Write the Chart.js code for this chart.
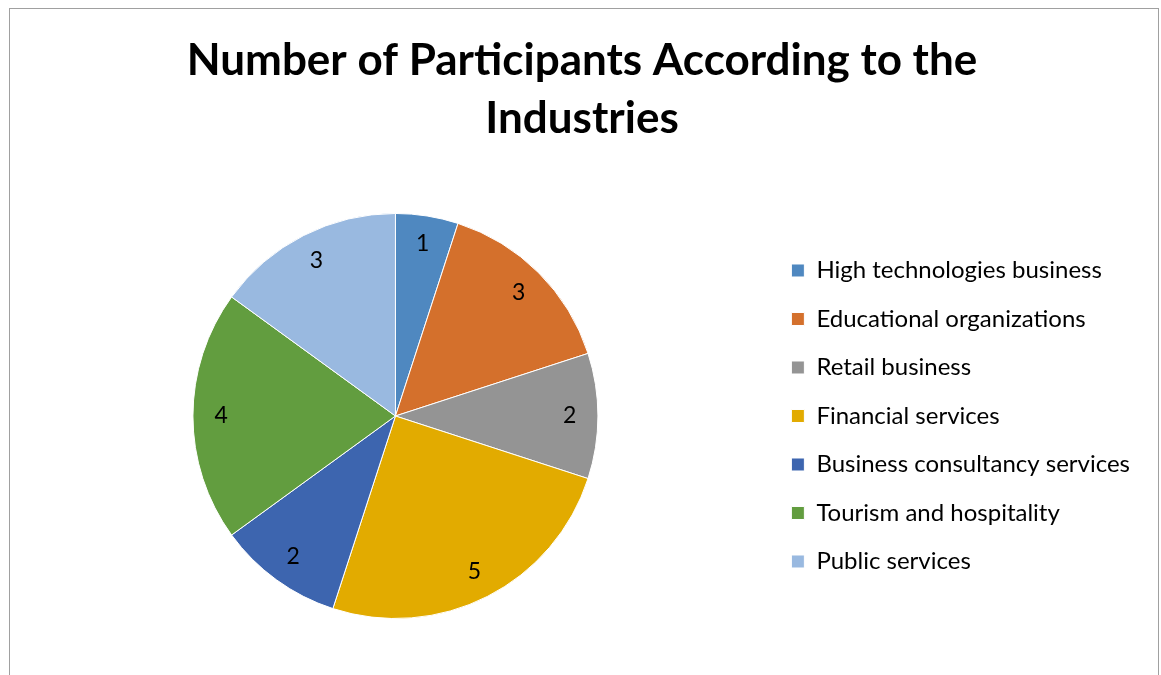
<!DOCTYPE html>
<html>
<head>
<meta charset="utf-8">
<script src="https://cdn.jsdelivr.net/npm/chart.js@4"></script>
<style>
  html, body { margin: 0; padding: 0; background: #fff; overflow: hidden; }
  #frame {
    position: absolute; left: 9px; top: 8px; width: 1150px; height: 700px;
    border: 1px solid #a0a0a0; border-bottom: none; box-sizing: border-box; background: #fff;
  }
  #wrap { position: absolute; left: 1px; top: 1px; width: 1148px; height: 666px; }
</style>
</head>
<body>
<div id="frame"><div id="wrap"><canvas id="c"></canvas></div></div>
<script>
const titleLines = ['Number of Participants According to the', 'Industries'];
const industries = [
  'High technologies business',
  'Educational organizations',
  'Retail business',
  'Financial services',
  'Business consultancy services',
  'Tourism and hospitality',
  'Public services'
];
const participants = [1, 3, 2, 5, 2, 4, 3];
const sliceColors = ['#4F88C0', '#D4702C', '#949494', '#E2AB00', '#3D65AF', '#629D3F', '#99B9E0'];

const FONT = 'Lato, "Open Sans", "DejaVu Sans", sans-serif';

// Value labels placed inside each slice, near the rim
const sliceValueLabels = {
  id: 'sliceValueLabels',
  afterDatasetsDraw(chart) {
    const ctx = chart.ctx;
    const meta = chart.getDatasetMeta(0);
    ctx.save();
    ctx.font = '23px ' + FONT;
    ctx.fillStyle = '#000';
    ctx.textAlign = 'center';
    ctx.textBaseline = 'middle';
    meta.data.forEach((arc, i) => {
      const { x, y, startAngle, endAngle, outerRadius } = arc.getProps(['x', 'y', 'startAngle', 'endAngle', 'outerRadius'], true);
      const mid = (startAngle + endAngle) / 2;
      const r = outerRadius * 0.86;
      ctx.fillText(String(chart.data.datasets[0].data[i]), x + Math.cos(mid) * r, y + Math.sin(mid) * r);
    });
    ctx.restore();
  }
};

new Chart(document.getElementById('c'), {
  type: 'pie',
  data: {
    labels: industries,
    datasets: [{
      data: participants,
      backgroundColor: sliceColors,
      borderColor: '#ffffff',
      borderWidth: 1
    }]
  },
  options: {
    responsive: true,
    maintainAspectRatio: false,
    animation: false,
    layout: { padding: { left: 13, right: 19, top: 0, bottom: 57 } },
    plugins: {
      title: {
        display: true,
        text: titleLines,
        color: '#000',
        font: { family: FONT, size: 44, weight: 'bold', lineHeight: 1.318 },
        padding: { top: 22, bottom: 65 }
      },
      legend: {
        position: 'right',
        align: 'center',
        fullSize: false,
        labels: {
          color: '#000',
          font: { family: FONT, size: 24 },
          boxWidth: 13,
          boxHeight: 13,
          padding: 24.5
        }
      },
      tooltip: { enabled: false }
    }
  },
  plugins: [sliceValueLabels]
});
</script>
</body>
</html>
